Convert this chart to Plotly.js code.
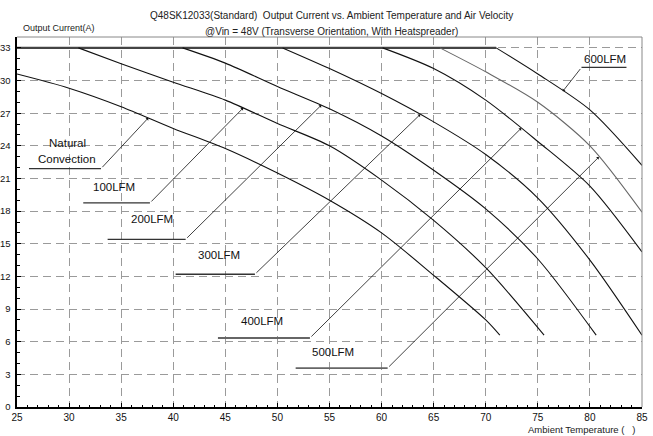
<!DOCTYPE html>
<html>
<head>
<meta charset="utf-8">
<script src="https://cdn.plot.ly/plotly-3.0.1.min.js"></script>
<style>html,body{margin:0;padding:0;background:#fff;}#chart{width:653px;height:436px;}</style>
</head>
<body>
<div id="chart"></div>
<script>
// ---- data ----
const ratedCurrent = 33;
const natX = [25, 30, 35, 40, 45, 50, 55, 60, 65, 70, 71.35];
const natY = [30.6, 29.3, 27.6, 25.6, 23.75, 21.5, 19.0, 16.0, 12.1, 8.0, 6.6];
const lfm100X = [30.9, 35, 40, 45, 50, 55, 60, 65, 70, 75.6];
const lfm100Y = [33, 31.55, 29.85, 28.2, 26.05, 24.0, 20.85, 17.15, 12.8, 6.6];
const lfm200X = [40.9, 45, 50, 55, 60, 65, 70, 75, 80.6];
const lfm200Y = [33, 31.6, 29.45, 27.4, 24.9, 21.75, 18.2, 13.6, 6.6];
const lfm300X = [50.5, 55, 60, 65, 70, 75, 80, 85];
const lfm300Y = [33, 31.1, 28.8, 26.2, 23.2, 19.2, 13.5, 6.6];
const lfm400X = [60.1, 65, 70, 75, 80, 85];
const lfm400Y = [33, 31.1, 28.2, 24.4, 20.3, 14.25];
const lfm500X = [65.6, 70, 75, 80, 85];
const lfm500Y = [33, 30.8, 28.0, 24.0, 17.9];
const lfm600X = [71.0, 75, 80, 85];
const lfm600Y = [33, 30.6, 27.3, 22.2];
const seriesNames = ['Natural Convection', '100LFM', '200LFM', '300LFM', '400LFM', '500LFM', '600LFM'];
const xTicks = [25, 30, 35, 40, 45, 50, 55, 60, 65, 70, 75, 80, 85];
const yTicks = [0, 3, 6, 9, 12, 15, 18, 21, 24, 27, 30, 33];

const titleLine1 = 'Q48SK12033(Standard)  Output Current vs. Ambient Temperature and Air Velocity';
const titleLine2 = '@Vin = 48V (Transverse Orientation, With Heatspreader)';
const yTitle = 'Output Current(A)';
const xTitle = 'Ambient Temperature (   )';

// ---- build ----
const seriesX = [natX, lfm100X, lfm200X, lfm300X, lfm400X, lfm500X, lfm600X];
const seriesY = [natY, lfm100Y, lfm200Y, lfm300Y, lfm400Y, lfm500Y, lfm600Y];
const lineColors = ['#111', '#111', '#111', '#111', '#111', '#666', '#111'];

const FONT = 'Liberation Sans, Arial, sans-serif';

function interp(xs, ys, x) {
  for (let i = 0; i < xs.length - 1; i++) {
    if (x >= xs[i] && x <= xs[i + 1]) {
      const t = (x - xs[i]) / (xs[i + 1] - xs[i]);
      return ys[i] + t * (ys[i + 1] - ys[i]);
    }
  }
  return ys[ys.length - 1];
}

const traces = [];
// shared rated-current segment (flat part of the air-flow curves)
const flatEnd = Math.max(...seriesX.slice(1).map(a => a[0]));
traces.push({
  x: [xTicks[0], flatEnd], y: [ratedCurrent, ratedCurrent],
  mode: 'lines', line: {color: '#444', width: 2.2}, hoverinfo: 'skip', showlegend: false
});
seriesX.forEach((xs, i) => {
  traces.push({
    x: xs, y: seriesY[i], name: seriesNames[i], mode: 'lines',
    line: {color: lineColors[i], width: 1.1, shape: 'spline', smoothing: 0.8},
    showlegend: false
  });
});

// label placement (layout, data coordinates)
const labelLayout = [
  {s: 0, text: ['Natural', 'Convection'], tx: 29.8, ty: [24.25, 22.75], u0: 26.15, u1: 33.06, uy: 21.9, tipX: 37.6, from: 'right', uc: '#333', uw: 1.3},
  {s: 1, text: ['100LFM'], tx: 34.35, ty: [20.2], u0: 31.36, u1: 37.76, uy: 18.75, tipX: 46.7, from: 'right', uc: '#333', uw: 1.3},
  {s: 2, text: ['200LFM'], tx: 38.0, ty: [17.25], u0: 33.7, u1: 41.19, uy: 15.41, tipX: 54.2, from: 'right', uc: '#333', uw: 1.3},
  {s: 3, text: ['300LFM'], tx: 44.4, ty: [13.94], u0: 40.23, u1: 47.84, uy: 12.2, tipX: 63.7, from: 'right', uc: '#333', uw: 1.3},
  {s: 4, text: ['400LFM'], tx: 48.5, ty: [7.88], u0: 44.29, u1: 53.12, uy: 6.34, tipX: 73.4, from: 'right', uc: '#666', uw: 1.8},
  {s: 5, text: ['500LFM'], tx: 55.3, ty: [5.06], u0: 51.75, u1: 60.58, uy: 3.58, tipX: 80.85, from: 'right', uc: '#666', uw: 1.8},
  {s: 6, text: ['600LFM'], tx: 81.45, ty: [32.02], u0: 79.19, u1: 83.51, uy: 31.2, tipX: 77.4, from: 'left', uc: '#333', uw: 1.3}
];

const annotations = [];
const shapes = [
  {type: 'line', xref: 'paper', yref: 'paper', x0: 0, x1: 1, y0: 1, y1: 1, line: {color: '#888', width: 1}},
  {type: 'line', xref: 'paper', yref: 'paper', x0: 1, x1: 1, y0: 0, y1: 1, line: {color: '#888', width: 1}}
];

labelLayout.forEach(L => {
  L.text.forEach((t, k) => {
    annotations.push({x: L.tx, y: L.ty[k], xref: 'x', yref: 'y', text: t, showarrow: false,
      font: {family: FONT, size: 11.5, color: '#111'}, xanchor: 'center', yanchor: 'middle'});
  });
  shapes.push({type: 'line', xref: 'x', yref: 'y', x0: L.u0, x1: L.u1, y0: L.uy, y1: L.uy,
    line: {color: L.uc, width: L.uw}});
  const tipY = interp(seriesX[L.s], seriesY[L.s], L.tipX);
  annotations.push({x: L.tipX, y: tipY, xref: 'x', yref: 'y',
    ax: L.from === 'right' ? L.u1 : L.u0, ay: L.uy, axref: 'x', ayref: 'y',
    text: '', showarrow: true, arrowhead: 1, arrowsize: 0.8, arrowwidth: 0.8, arrowcolor: '#111', standoff: 0, startstandoff: 0});
});

// titles
annotations.push({xref: 'paper', yref: 'paper', x: 0.5024, y: 1.057, text: titleLine1, showarrow: false,
  font: {family: FONT, size: 10, color: '#222'}, xanchor: 'center', yanchor: 'middle'});
annotations.push({xref: 'paper', yref: 'paper', x: 0.5024, y: 1.015, text: titleLine2, showarrow: false,
  font: {family: FONT, size: 10, color: '#222'}, xanchor: 'center', yanchor: 'middle'});
annotations.push({xref: 'paper', yref: 'paper', x: 0.006, y: 1.024, text: yTitle, showarrow: false,
  font: {family: FONT, size: 9, color: '#222'}, xanchor: 'left', yanchor: 'middle'});
annotations.push({xref: 'paper', yref: 'paper', x: 0.994, y: -0.06, text: xTitle, showarrow: false,
  font: {family: FONT, size: 9.5, color: '#222'}, xanchor: 'right', yanchor: 'middle'});

const axisCommon = {
  showline: true, linecolor: '#000', linewidth: 1.6, zeroline: false,
  showgrid: true, gridcolor: '#9a9a9a', gridwidth: 1, griddash: '8px,5px',
  ticks: 'inside', ticklen: 4, tickcolor: '#000', tickwidth: 1,
  tickfont: {family: FONT, size: 10, color: '#111'},
  tickmode: 'array', fixedrange: true
};

const layout = {
  width: 653, height: 436,
  margin: {l: 17, r: 11, t: 37, b: 29, pad: 0},
  paper_bgcolor: '#fff', plot_bgcolor: '#fff',
  showlegend: false,
  xaxis: Object.assign({}, axisCommon, {
    range: [25, 85], tickvals: xTicks, ticktext: xTicks.map(String),
    minor: {dtick: 1, tick0: 25, ticks: 'inside', ticklen: 2.5, tickcolor: '#000', showgrid: false}
  }),
  yaxis: Object.assign({}, axisCommon, {
    range: [0, 34], tickvals: yTicks, ticktext: yTicks.map(String),
    tickfont: {family: FONT, size: 9.5, color: '#111'},
    ticklabelstandoff: 3,
    minor: {dtick: 1, tick0: 0, ticks: 'inside', ticklen: 2.5, tickcolor: '#000', showgrid: false}
  }),
  annotations: annotations,
  shapes: shapes
};

Plotly.newPlot('chart', traces, layout, {displayModeBar: false, staticPlot: true});
</script>
</body>
</html>
